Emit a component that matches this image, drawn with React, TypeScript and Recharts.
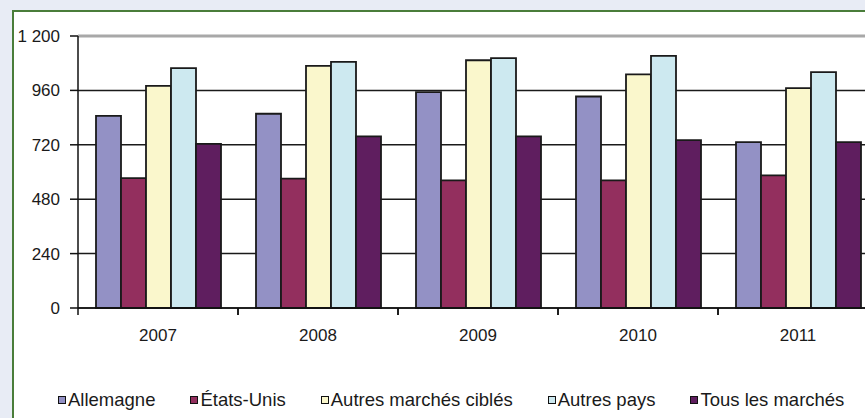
import React from "react";
import { BarChart, Bar, XAxis, YAxis, CartesianGrid, ReferenceLine } from "recharts";

const years = ["2007", "2008", "2009", "2010", "2011"];
const allemagne = [848, 857, 952, 933, 732];
const etatsUnis = [573, 571, 563, 563, 585];
const autresMarchesCibles = [980, 1068, 1093, 1031, 970];
const autresPays = [1058, 1086, 1102, 1112, 1041];
const tousLesMarches = [724, 757, 757, 741, 732];
const yTicks = [0, 240, 480, 720, 960, 1200];

const series = [
  { key: "allemagne", name: "Allemagne", values: allemagne, color: "#9391c5" },
  { key: "etatsUnis", name: "États-Unis", values: etatsUnis, color: "#932f5e" },
  { key: "autresCibles", name: "Autres marchés ciblés", values: autresMarchesCibles, color: "#faf7cc" },
  { key: "autresPays", name: "Autres pays", values: autresPays, color: "#cde9f0" },
  { key: "tous", name: "Tous les marchés", values: tousLesMarches, color: "#5f1e5f" },
];

const data = years.map((y, i) => {
  const row: Record<string, any> = { year: y };
  series.forEach((s) => (row[s.key] = s.values[i]));
  return row;
});

const FONT = "'Liberation Sans', Arial, sans-serif";
const CHART_W = 900;
const CHART_H = 418;
const MARGIN = { top: 36, right: 22, left: 18, bottom: 80 };
const Y_W = 60;
const PLOT_W = CHART_W - MARGIN.left - MARGIN.right - Y_W;

const fmt = (v: number) => {
  const s = String(v);
  return s.length > 3 ? s.slice(0, s.length - 3) + " " + s.slice(-3) : s;
};

const XTick = (props: any) => {
  const { x, y, payload } = props;
  const half = PLOT_W / years.length / 2;
  return (
    <g>
      <line x1={x - half} x2={x - half} y1={y} y2={y + 7} stroke="#111" strokeWidth={1.5} />
      <line x1={x + half} x2={x + half} y1={y} y2={y + 7} stroke="#111" strokeWidth={1.5} />
      <text x={x} y={y + 33} textAnchor="middle" fontFamily={FONT} fontSize={17} fill="#1a1a1a">
        {payload.value}
      </text>
    </g>
  );
};

export default function App() {
  return (
    <div
      style={{
        position: "absolute",
        left: 0,
        top: 0,
        width: 865,
        height: 418,
        overflow: "hidden",
        background: "#e8ecf5",
      }}
    >
      <div
        style={{
          position: "absolute",
          left: 12,
          top: 10,
          width: 900,
          height: 420,
          background: "#ffffff",
          borderLeft: "2px solid #4a7d3a",
          borderTop: "2px solid #4a7d3a",
        }}
      />
      <div style={{ position: "absolute", left: 0, top: 0 }}>
        <BarChart
          width={CHART_W}
          height={CHART_H}
          data={data}
          margin={MARGIN}
          barCategoryGap={18}
          barGap={0}
        >
          <CartesianGrid vertical={false} stroke="#1a1a1a" strokeWidth={1.5} />
          <YAxis
            width={Y_W}
            domain={[0, 1200]}
            ticks={yTicks}
            interval={0}
            tickFormatter={fmt}
            tickSize={8}
            tickMargin={10}
            axisLine={{ stroke: "#111", strokeWidth: 1.5 }}
            tickLine={{ stroke: "#111", strokeWidth: 1.5 }}
            tick={{ fill: "#1a1a1a", fontSize: 17, fontFamily: FONT }}
          />
          <XAxis
            dataKey="year"
            height={30}
            tickLine={false}
            tickSize={0}
            tickMargin={0}
            interval={0}
            axisLine={{ stroke: "#111", strokeWidth: 1.5 }}
            tick={<XTick />}
          />
          <ReferenceLine y={1200} stroke="#a8a8a8" strokeWidth={3} />
          {series.map((s) => (
            <Bar
              key={s.key}
              dataKey={s.key}
              name={s.name}
              fill={s.color}
              stroke="#1a1a1a"
              strokeWidth={1.8}
              isAnimationActive={false}
            />
          ))}
        </BarChart>
      </div>
      <div
        style={{
          position: "absolute",
          left: 58,
          top: 389,
          display: "flex",
          alignItems: "center",
          fontFamily: FONT,
          fontSize: 18.5,
          color: "#1a1a1a",
          whiteSpace: "nowrap",
        }}
      >
        {series.map((s) => (
          <div key={s.key} style={{ display: "flex", alignItems: "center", marginRight: 35 }}>
            <span
              style={{
                display: "inline-block",
                width: 6,
                height: 6,
                border: "1.5px solid #111",
                background: s.color,
                marginRight: 2,
              }}
            />
            <span>{s.name}</span>
          </div>
        ))}
      </div>
    </div>
  );
}
